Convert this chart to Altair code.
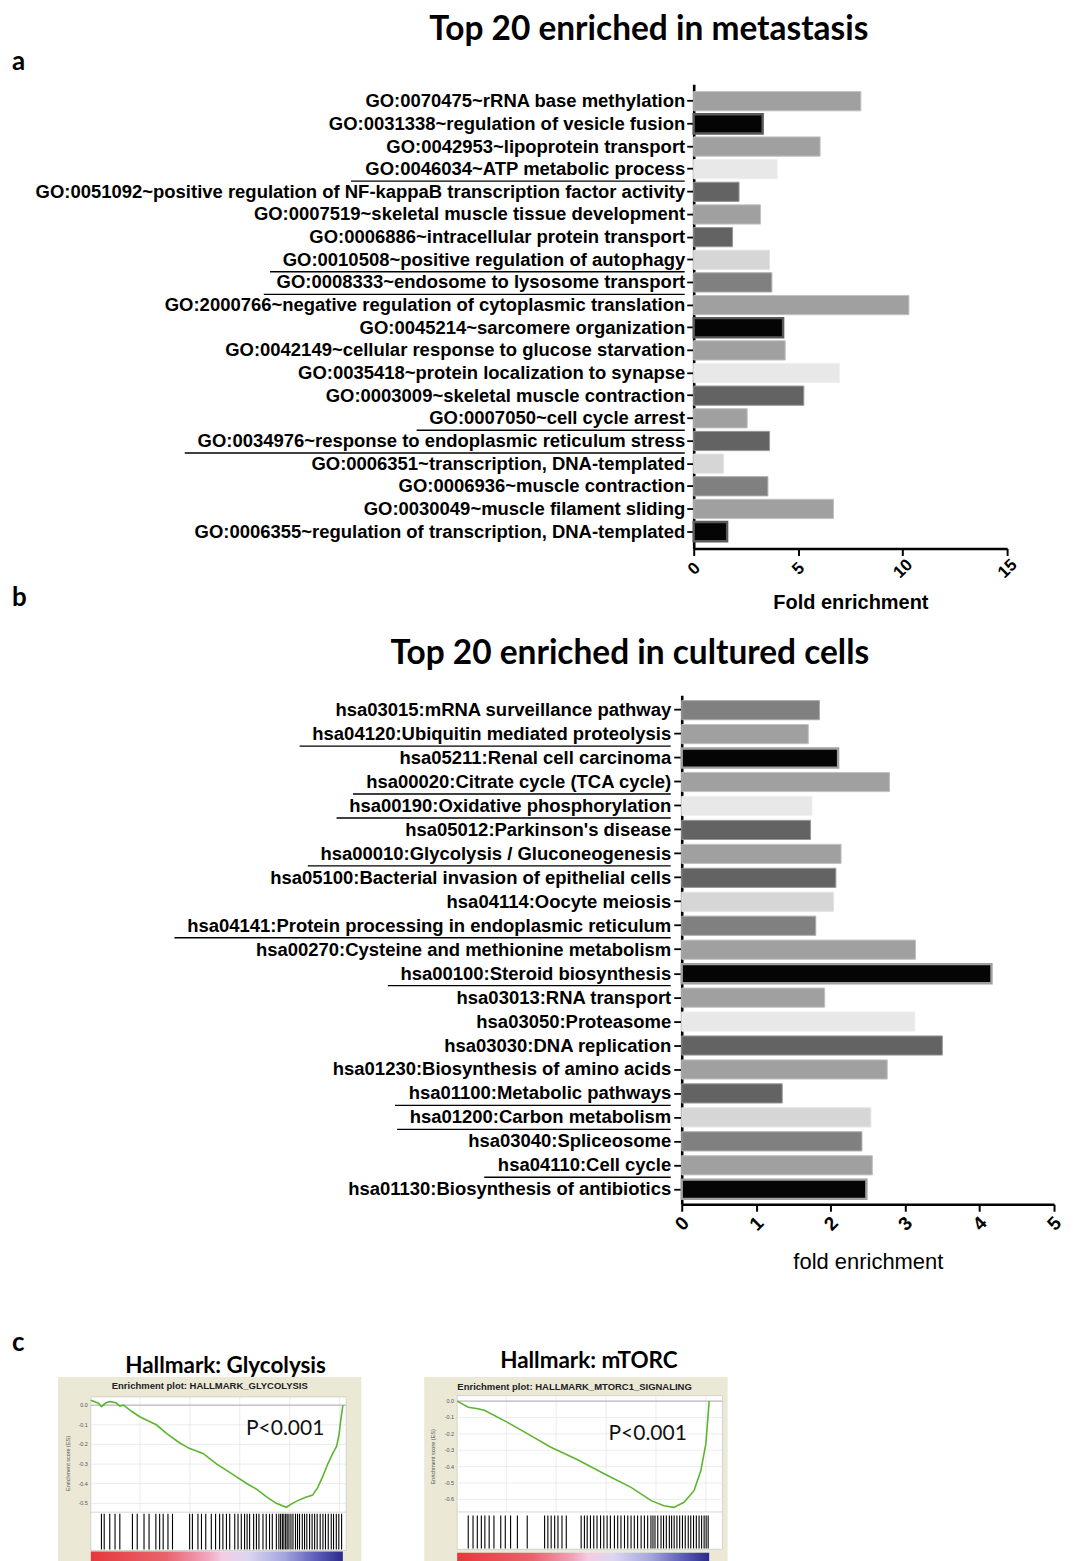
import altair as alt
import pandas as pd

# ---------------- data ----------------
go_terms = [
    "GO:0070475~rRNA base methylation",
    "GO:0031338~regulation of vesicle fusion",
    "GO:0042953~lipoprotein transport",
    "GO:0046034~ATP metabolic process",
    "GO:0051092~positive regulation of NF-kappaB transcription factor activity",
    "GO:0007519~skeletal muscle tissue development",
    "GO:0006886~intracellular protein transport",
    "GO:0010508~positive regulation of autophagy",
    "GO:0008333~endosome to lysosome transport",
    "GO:2000766~negative regulation of cytoplasmic translation",
    "GO:0045214~sarcomere organization",
    "GO:0042149~cellular response to glucose starvation",
    "GO:0035418~protein localization to synapse",
    "GO:0003009~skeletal muscle contraction",
    "GO:0007050~cell cycle arrest",
    "GO:0034976~response to endoplasmic reticulum stress",
    "GO:0006351~transcription, DNA-templated",
    "GO:0006936~muscle contraction",
    "GO:0030049~muscle filament sliding",
    "GO:0006355~regulation of transcription, DNA-templated",
]
go_fold = [8.0, 3.3, 6.05, 4.0, 2.17, 3.2, 1.86, 3.63, 3.74, 10.3,
           4.28, 4.38, 6.98, 5.27, 2.56, 3.63, 1.43, 3.55, 6.69, 1.6]
go_underlined = [0, 0, 0, 1, 0, 0, 0, 1, 1, 0, 0, 0, 0, 0, 1, 1, 0, 0, 0, 0]

kegg_terms = [
    "hsa03015:mRNA surveillance pathway",
    "hsa04120:Ubiquitin mediated proteolysis",
    "hsa05211:Renal cell carcinoma",
    "hsa00020:Citrate cycle (TCA cycle)",
    "hsa00190:Oxidative phosphorylation",
    "hsa05012:Parkinson's disease",
    "hsa00010:Glycolysis / Gluconeogenesis",
    "hsa05100:Bacterial invasion of epithelial cells",
    "hsa04114:Oocyte meiosis",
    "hsa04141:Protein processing in endoplasmic reticulum",
    "hsa00270:Cysteine and methionine metabolism",
    "hsa00100:Steroid biosynthesis",
    "hsa03013:RNA transport",
    "hsa03050:Proteasome",
    "hsa03030:DNA replication",
    "hsa01230:Biosynthesis of amino acids",
    "hsa01100:Metabolic pathways",
    "hsa01200:Carbon metabolism",
    "hsa03040:Spliceosome",
    "hsa04110:Cell cycle",
    "hsa01130:Biosynthesis of antibiotics",
]
kegg_fold = [1.85, 1.70, 2.10, 2.79, 1.75, 1.73, 2.14, 2.07, 2.04, 1.80, 3.14,
             4.16, 1.92, 3.13, 3.50, 2.76, 1.35, 2.54, 2.42, 2.56, 2.48]
kegg_underlined = [0, 1, 0, 1, 1, 0, 1, 0, 0, 1, 0, 1, 0, 0, 0, 0, 1, 1, 0, 1, 0]

x_ticks_a = [0, 5, 10, 15]
x_ticks_b = [0, 1, 2, 3, 4, 5]

glyco_rank = [0.0, 0.03, 0.042, 0.06, 0.075, 0.1, 0.115, 0.13, 0.16, 0.194, 0.22,
              0.26, 0.30, 0.35, 0.39, 0.445, 0.50, 0.56, 0.62, 0.66, 0.70, 0.736,
              0.775, 0.80, 0.815, 0.85, 0.88, 0.90, 0.92, 0.94, 0.96, 0.975, 0.985,
              0.99, 1.0]
glyco_es = [0.025, 0.01, -0.008, 0.012, 0.018, 0.012, -0.005, 0.0, -0.03, -0.059,
            -0.076, -0.10, -0.144, -0.19, -0.22, -0.246, -0.30, -0.35, -0.40, -0.43,
            -0.47, -0.50, -0.52, -0.50, -0.49, -0.47, -0.458, -0.42, -0.364, -0.30,
            -0.246, -0.21, -0.15, -0.093, 0.0]
glyco_hits = [0.042, 0.053, 0.075, 0.096, 0.115, 0.165, 0.184, 0.211, 0.231, 0.258,
              0.273, 0.287, 0.306, 0.324, 0.392, 0.403, 0.425, 0.439, 0.456, 0.478,
              0.495, 0.511, 0.524, 0.538, 0.551, 0.571, 0.584, 0.597, 0.610, 0.620,
              0.630, 0.646, 0.657, 0.667, 0.683, 0.696, 0.709, 0.720, 0.736, 0.746,
              0.753, 0.760, 0.766, 0.773, 0.779, 0.786, 0.794, 0.802, 0.812, 0.820,
              0.828, 0.839, 0.848, 0.857, 0.868, 0.878, 0.888, 0.898, 0.910, 0.921,
              0.931, 0.942, 0.954, 0.963, 0.974, 0.984, 0.995]

mtorc_rank = [0.0, 0.044, 0.083, 0.11, 0.20, 0.28, 0.37, 0.48, 0.585, 0.69, 0.77,
              0.82, 0.86, 0.90, 0.94, 0.967, 0.987, 1.0]
mtorc_es = [0.0, -0.037, -0.047, -0.057, -0.13, -0.20, -0.28, -0.36, -0.445, -0.527,
            -0.608, -0.639, -0.649, -0.618, -0.547, -0.424, -0.26, 0.0]
mtorc_hits = [0.044, 0.063, 0.080, 0.096, 0.110, 0.127, 0.146, 0.173, 0.191, 0.212,
              0.239, 0.278, 0.347, 0.360, 0.373, 0.387, 0.400, 0.416, 0.433, 0.492,
              0.505, 0.516, 0.529, 0.542, 0.555, 0.569, 0.582, 0.595, 0.608, 0.624,
              0.637, 0.650, 0.664, 0.677, 0.690, 0.703, 0.716, 0.730, 0.743, 0.756,
              0.769, 0.777, 0.785, 0.796, 0.809, 0.819, 0.830, 0.842, 0.851, 0.861,
              0.872, 0.883, 0.894, 0.905, 0.917, 0.927, 0.938, 0.949, 0.960, 0.970,
              0.980, 0.988, 0.996]

gsea_grid_ranks = [0.195, 0.393, 0.591, 0.789, 0.987]
glyco_es_ticks = [0.0, -0.1, -0.2, -0.3, -0.4, -0.5]
mtorc_es_ticks = [0.0, -0.1, -0.2, -0.3, -0.4, -0.5, -0.6]

# ---------------- styles ----------------
LABEL_FONT = "Liberation Sans"
TITLE_FONT = "Lato"
LABEL_SIZE = 18.5
HEAD_SIZE = 33.5
BLACK = "#050505"
GREY = "#a0a0a0"
VLIGHT = "#e8e8e8"
DARK = "#636363"
LIGHT = "#d6d6d6"
MID = "#808080"
CYCLE = [GREY, BLACK, GREY, VLIGHT, DARK, GREY, DARK, LIGHT, MID]

_W = {" ": 278, "!": 333, "'": 238, "(": 333, ")": 333, ",": 278, "-": 333,
      ".": 278, "/": 278, ":": 333, "~": 584, "<": 584}
for _c in "0123456789":
    _W[_c] = 556
_W.update(dict(A=722, B=722, C=722, D=722, E=667, F=611, G=778, H=722, I=278,
               J=556, K=722, L=611, M=833, N=722, O=778, P=667, Q=778, R=722,
               S=667, T=611, U=722, V=667, W=944, X=667, Y=667, Z=611))
_W.update(dict(a=556, b=611, c=556, d=611, e=556, f=333, g=611, h=611, i=278,
               j=278, k=556, l=278, m=889, n=611, o=611, p=611, q=611, r=389,
               s=556, t=333, u=611, v=556, w=778, x=556, y=556, z=500))


def text_w(s, size):
    return sum(_W.get(c, 600) for c in s) / 1000.0 * size


def lighten(hexcol, f=0.35):
    r, g, b = (int(hexcol[i:i + 2], 16) for i in (1, 3, 5))
    r, g, b = (int(v + (255 - v) * f) for v in (r, g, b))
    return "#%02x%02x%02x" % (r, g, b)


one = pd.DataFrame({"k": [0]})


def label_text(txt, px, py, size, font=TITLE_FONT, weight="bold", align="center",
               opacity=1):
    return alt.Chart(one).mark_text(
        text=txt, font=font, fontSize=size, fontWeight=weight, align=align,
        baseline="middle", color="black", opacity=opacity).encode(
        x=alt.value(px), y=alt.value(py))


def spacer(width, letters):
    layers = [label_text(".", 0, 2, 4, align="left", opacity=0)]
    layers += [label_text(t, 0, y, 26, align="left") for t, y in letters]
    return alt.layer(*layers).properties(width=width, height=10)


def bar_panel(terms, folds, underlined, offset, black_edge, xmax, xticks, width,
              height, p_in, p_out, tick, lpad, tick_font, xlabel_pad,
              xtitle, xtitle_weight, xtitle_size, xtitle_y, heading):
    fills = [CYCLE[(i + offset) % 9] for i in range(len(terms))]
    edges = [black_edge if f == BLACK else lighten(f) for f in fills]
    sws = [2.4 if f == BLACK else 1.0 for f in fills]
    df = pd.DataFrame(dict(term=terms, fold=folds, fill=fills, edge=edges, sw=sws))
    ppu = width / xmax
    rows = []
    for t, u in zip(terms, underlined):
        if u:
            rows.append((t, -(tick + lpad + text_w(t, LABEL_SIZE) + 12) / ppu,
                         -(tick + lpad) / ppu))
    df_ul = pd.DataFrame(rows, columns=["term", "x1", "x2"])

    yaxis = alt.Axis(title=None, labelFont=LABEL_FONT, labelFontSize=LABEL_SIZE,
                     labelFontWeight="bold", labelColor="black", labelLimit=900,
                     labelPadding=lpad, tickSize=tick, tickWidth=1.8,
                     tickColor="black", domainColor="black", domainWidth=2.6,
                     grid=False)
    xaxis = alt.Axis(values=xticks, title=xtitle, titleFont=LABEL_FONT,
                     titleFontSize=xtitle_size, titleFontWeight=xtitle_weight,
                     titleColor="black", titleY=xtitle_y, titleBaseline="middle",
                     labelFont=LABEL_FONT, labelFontSize=tick_font,
                     labelFontWeight="bold", labelColor="black", labelAngle=-45,
                     labelAlign="center", labelBaseline="middle",
                     labelPadding=xlabel_pad, labelFlush=False, labelOverlap=False,
                     tickSize=7, tickWidth=2, tickColor="black",
                     domainColor="black", domainWidth=2.6, grid=False)
    yscale = alt.Scale(paddingInner=p_in, paddingOuter=p_out)
    xscale = alt.Scale(domain=[0, xmax], nice=False, zero=True)

    bars = alt.Chart(df).mark_bar().encode(
        y=alt.Y("term:N", sort=terms, scale=yscale, axis=yaxis),
        x=alt.X("fold:Q", scale=xscale, axis=xaxis),
        fill=alt.Fill("fill:N", scale=None),
        stroke=alt.Stroke("edge:N", scale=None),
        strokeWidth=alt.StrokeWidth("sw:Q", scale=None),
    )
    lines = alt.Chart(df_ul).mark_rule(color="black", strokeWidth=1.4, yOffset=12).encode(
        y=alt.Y("term:N", sort=terms, scale=yscale, axis=yaxis, bandPosition=0.5),
        x=alt.X("x1:Q", scale=xscale, axis=xaxis),
        x2="x2:Q",
    )
    layers = [bars, lines, label_text(*heading, size=HEAD_SIZE)]
    return alt.layer(*layers).properties(width=width, height=height)


panel_a = bar_panel(go_terms, go_fold, go_underlined, 0, "#5a5a5a", 15, x_ticks_a,
                    314, 465, 0.15, 0.32, 7, 2, 17, 13,
                    "Fold enrichment", "bold", 20, 54,
                    ("Top 20 enriched in metastasis", -45, -54))

panel_b = bar_panel(kegg_terms, kegg_fold, kegg_underlined, 8, "#a0a0a0", 5, x_ticks_b,
                    373, 510, 0.2, 0.225, 8, 3, 19, 12,
                    "fold enrichment", "normal", 22, 57,
                    ("Top 20 enriched in cultured cells", -52, -41))


GRAD = alt.LinearGradient(
    gradient="linear", x1=0, x2=1, y1=0, y2=0,
    stops=[alt.GradientStop(color="#e6383c", offset=0),
           alt.GradientStop(color="#e8646c", offset=0.3),
           alt.GradientStop(color="#f0a4bc", offset=0.46),
           alt.GradientStop(color="#f4cce2", offset=0.52),
           alt.GradientStop(color="#dcd6f0", offset=0.62),
           alt.GradientStop(color="#a8a8e0", offset=0.76),
           alt.GradientStop(color="#5a5ab8", offset=0.9),
           alt.GradientStop(color="#2a2a8c", offset=1)])


def gsea(heading, inner, ranks, es, hits, ticks, P):
    xs = alt.Scale(domain=P["xdom"], nice=False, zero=False)
    ys = alt.Scale(domain=P["ydom"], nice=False, zero=False)

    def X(f=None, d=None):
        if d is not None:
            return alt.X(datum=d, scale=xs, axis=None)
        return alt.X(f, scale=xs, axis=None)

    def Y(f=None, d=None):
        if d is not None:
            return alt.Y(datum=d, scale=ys, axis=None)
        return alt.Y(f, scale=ys, axis=None)

    panel = alt.Chart(one).mark_rect(fill="white", stroke="#bdbdbd", strokeWidth=0.6).encode(
        x=X(d=0), x2=alt.X2(datum=P["right"]), y=Y(d=P["top"]), y2=alt.Y2(datum=P["bottom"]))
    df_t = pd.DataFrame({"v": ticks, "lab": ["%.1f" % t for t in ticks]})
    hgrid = alt.Chart(df_t).mark_rule(color="#e3e3e3", strokeWidth=0.7).encode(
        y=Y("v:Q"), x=X(d=0), x2=alt.X2(datum=P["right"]))
    zero = alt.Chart(one).mark_rule(color="#9a9a9a", strokeWidth=0.8).encode(
        y=Y(d=0), x=X(d=0), x2=alt.X2(datum=P["right"]))
    vgrid = alt.Chart(pd.DataFrame({"r": gsea_grid_ranks})).mark_rule(
        color="#e3e3e3", strokeWidth=0.7).encode(
        x=X("r:Q"), y=Y(d=P["top"]), y2=alt.Y2(datum=P["es_bottom"]))
    sep = alt.Chart(one).mark_rule(color="#bdbdbd", strokeWidth=0.6).encode(
        y=Y(d=P["es_bottom"]), x=X(d=0), x2=alt.X2(datum=P["right"]))
    line = alt.Chart(pd.DataFrame({"r": ranks, "es": es})).mark_line(
        color="#5cb531", strokeWidth=1.6).encode(x=X("r:Q"), y=Y("es:Q"))
    hit = alt.Chart(pd.DataFrame({"r": hits})).mark_rule(
        color="black", strokeWidth=1.1).encode(
        x=X("r:Q"), y=Y(d=P["hits_top"]), y2=alt.Y2(datum=P["hits_bottom"]))
    grad = alt.Chart(one).mark_rect(color=GRAD).encode(
        x=X(d=0), x2=alt.X2(datum=1.0), y=Y(d=P["grad_top"]), y2=alt.Y2(datum=P["grad_bottom"]))
    tlab = alt.Chart(df_t).mark_text(align="right", baseline="middle", fontSize=5.5,
                                     font=LABEL_FONT, color="#555555").encode(
        x=X(d=-0.012), y=Y("v:Q"), text="lab:N")
    ytitle = alt.Chart(one).mark_text(text="Enrichment score (ES)", angle=270,
                                      fontSize=5.5, font=LABEL_FONT, color="#555555").encode(
        x=X(d=P["ytitle"][0]), y=Y(d=P["ytitle"][1]))
    itit = alt.Chart(one).mark_text(text=inner, fontSize=9.5, fontWeight="bold",
                                    font=LABEL_FONT, color="#222222").encode(
        x=X(d=P["inner"][0]), y=Y(d=P["inner"][1]))
    pval = alt.Chart(one).mark_text(text="P<0.001", fontSize=21, font=TITLE_FONT,
                                    color="#111111").encode(
        x=X(d=P["p"][0]), y=Y(d=P["p"][1]))
    layers = [panel, hgrid, vgrid, zero, sep, line, hit, grad, tlab, ytitle, itit, pval,
              label_text(heading[0], heading[1], heading[2], 22.5)]
    return alt.layer(*layers).properties(
        width=304, height=200,
        view=alt.ViewBackground(fill="#ebe9d6", strokeWidth=0),
    )


P_glyco = dict(xdom=[-0.1307, 1.0733], ydom=[-0.8725, 0.1438], top=0.042,
               es_bottom=-0.545, hits_top=-0.553, hits_bottom=-0.735,
               bottom=-0.74, grad_top=-0.745, grad_bottom=-0.86, right=1.013,
               ytitle=(-0.09, -0.297), inner=(0.472, 0.097), p=(0.771, -0.12))
P_mtorc = dict(xdom=[-0.1307, 1.0733], ydom=[-1.0715, 0.148], top=0.034,
               es_bottom=-0.677, hits_top=-0.698, hits_bottom=-0.90,
               bottom=-0.905, grad_top=-0.927, grad_bottom=-1.06, right=1.053,
               ytitle=(-0.095, -0.34), inner=(0.466, 0.089), p=(0.756, -0.199))

g1 = gsea(("Hallmark: Glycolysis", 168, -11), "Enrichment plot: HALLMARK_GLYCOLYSIS",
          glyco_rank, glyco_es, glyco_hits, glyco_es_ticks, P_glyco)
g2 = gsea(("Hallmark: mTORC", 165, -16), "Enrichment plot: HALLMARK_MTORC1_SIGNALING",
          mtorc_rank, mtorc_es, mtorc_hits, mtorc_es_ticks, P_mtorc)

# Each row starts with a narrow column holding the panel letter, so the
# letters line up at the left edge and each panel keeps its own offset.
SP_W = 20
row_a = alt.hconcat(spacer(SP_W, [("a", -22), ("b", 515)]), panel_a,
                    spacing=683 - SP_W, bounds="flush")
row_b = alt.hconcat(spacer(SP_W, []), panel_b, spacing=671 - SP_W, bounds="flush")
row_c = alt.hconcat(spacer(SP_W, [("c", -34)]),
                    alt.hconcat(g1, g2, spacing=63, bounds="flush"),
                    spacing=46 - SP_W, bounds="flush")

chart = alt.vconcat(
    alt.vconcat(row_a, row_b, spacing=25),
    row_c,
    spacing=58,
).properties(
    padding={"left": 4, "top": 4, "right": 0, "bottom": 0},
).configure_view(strokeWidth=0)

chart.save("out.html", embed_options={"renderer": "svg", "actions": False})
